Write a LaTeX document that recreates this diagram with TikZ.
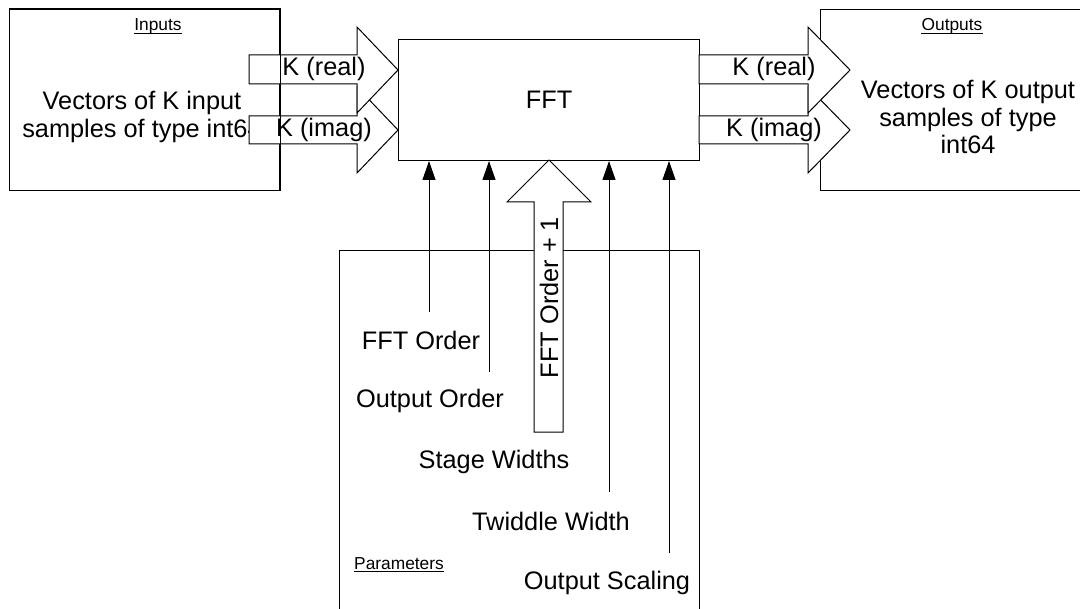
\documentclass[tikz,border=0pt]{standalone}
\usepackage{fontspec}
\setmainfont{Liberation Sans}
\usetikzlibrary{arrows.meta}
\begin{document}
\begin{tikzpicture}[x=0.75pt,y=-0.75pt,line width=0.75pt,
  big/.style={font=\fontsize{19}{20.5}\selectfont,inner sep=0pt},
  small/.style={font=\fontsize{13}{15}\selectfont,inner sep=0pt},
  box/.style={draw=black,fill=white,inner sep=0pt,anchor=north west},
  blk/.style={draw=black,fill=white,line join=miter},
  par/.style={-{Triangle[length=14.25pt,width=9.75pt]}}]
\useasboundingbox (0,0) rectangle (1080,609);

% ---------- Inputs ----------
\node[box,minimum width=202.5pt,minimum height=135.75pt] (inbox) at (9,9) {};
\node[small,anchor=base] (inlbl) at (158,31) {Inputs};
\draw ([yshift=-1.6pt]inlbl.base west) -- ([yshift=-1.6pt]inlbl.base east);
\node[big,align=center] (intext) at (142,117) {Vectors of K input\\samples of type int64};

% input block arrows (imag first, real on top)
\draw[blk] (249,116) -- (357,116) -- (357,87) -- (398,130) -- (357,173) -- (357,144) -- (249,144) -- cycle;
\node[big] (kii) at (324,130) {K (imag)};
\draw[blk] (249,55) -- (357,55) -- (357,27) -- (398,70) -- (357,113) -- (357,84) -- (249,84) -- cycle;
\node[big] (kri) at (324,69) {K (real)};
\draw (inbox.north west) rectangle (inbox.south east);

% ---------- FFT ----------
\node[box,minimum width=225.75pt,minimum height=90.75pt,big] (fft) at (398,39) {FFT};

% ---------- Outputs ----------
\node[box,minimum width=202.5pt,minimum height=135.75pt] (outbox) at (820,9) {};
\node[small,anchor=base] (outlbl) at (952,31) {Outputs};
\draw ([yshift=-1.6pt]outlbl.base west) -- ([yshift=-1.6pt]outlbl.base east);
\node[big,align=center] (outtext) at (968,117) {Vectors of K output\\samples of type\\int64};

\draw[blk] (699,116) -- (808,116) -- (808,87) -- (850,130) -- (808,173) -- (808,144) -- (699,144) -- cycle;
\node[big] (koi) at (774,130) {K (imag)};
\draw[blk] (699,55) -- (808,55) -- (808,27) -- (850,70) -- (808,113) -- (808,84) -- (699,84) -- cycle;
\node[big] (kor) at (774,69) {K (real)};

% ---------- Parameters ----------
\node[box,minimum width=270pt,minimum height=300pt,fill=none] (parbox) at (339,250) {};
\node[small,anchor=base] (parlbl) at (399,569) {Parameters};
\draw ([yshift=-1.6pt]parlbl.base west) -- ([yshift=-1.6pt]parlbl.base east);

% block arrow FFT Order + 1
\draw[blk] (534,432) -- (534,202) -- (507,202) -- (549,160) -- (591,202) -- (563,202) -- (563,432) -- cycle;
\node[big,rotate=90] (fo1) at (549,297.5) {FFT Order + 1};

% line arrows
\coordinate (s1) at (429,312);
\coordinate (s2) at (489,372);
\coordinate (s3) at (609,492);
\coordinate (s4) at (669,553);
\draw[par] (s1) -- (s1 |- fft.south);
\draw[par] (s2) -- (s2 |- fft.south);
\draw[par] (s3) -- (s3 |- fft.south);
\draw[par] (s4) -- (s4 |- fft.south);

\node[big] (l1) at (421,340) {FFT Order};
\node[big] (l2) at (430,401) {Output Order};
\node[big] (l3) at (494,462) {Stage Widths};
\node[big] (l4) at (551,521) {Twiddle Width};
\node[big] (l5) at (607,583) {Output Scaling};
\end{tikzpicture}
\end{document}
